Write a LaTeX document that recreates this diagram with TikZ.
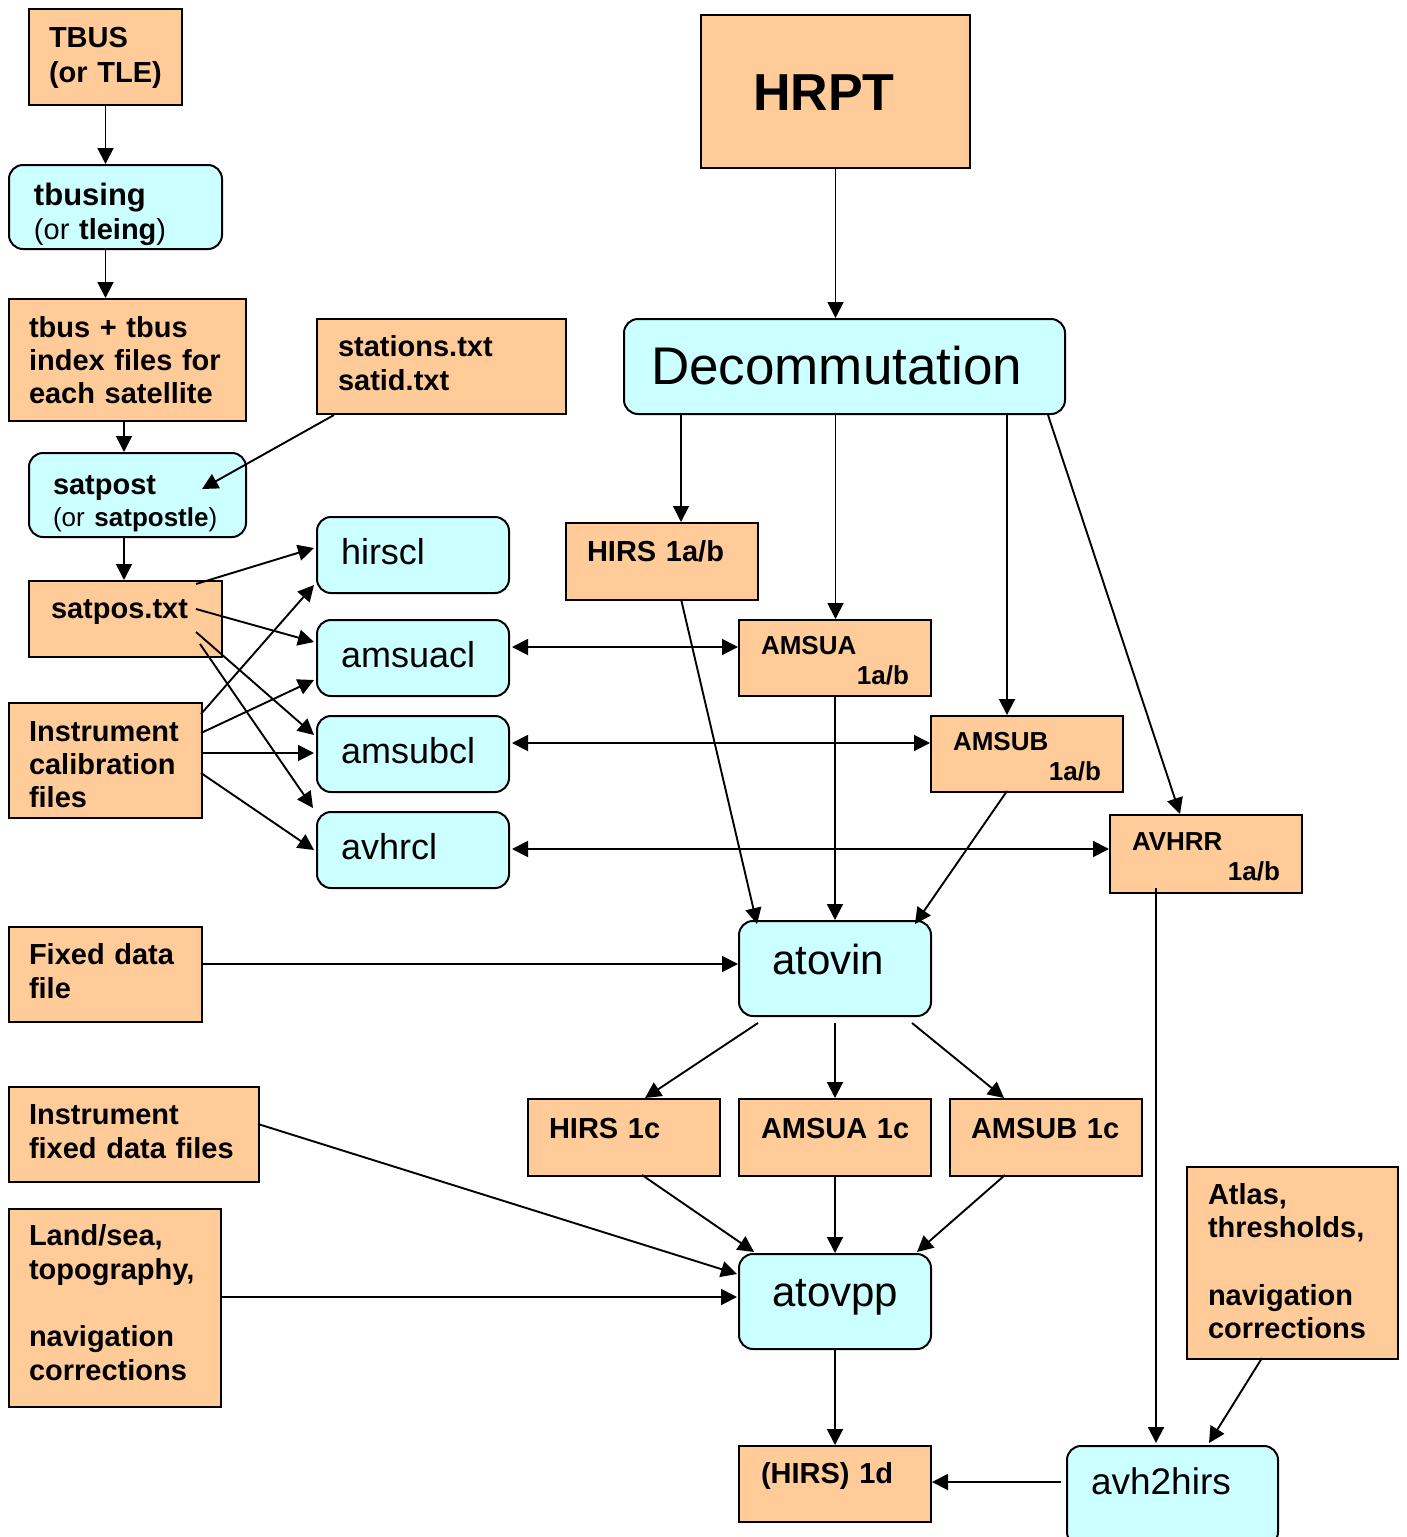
\documentclass[tikz,border=0pt]{standalone}
\usepackage{fontspec}
\setmainfont{Liberation Sans}
\usetikzlibrary{arrows.meta,calc}
\definecolor{orng}{HTML}{FFCC99}
\definecolor{cyn}{HTML}{CCFFFF}
\hyphenpenalty=10000
\exhyphenpenalty=10000
\begin{document}
\begin{tikzpicture}[x=1pt,y=-1pt,
  bxbase/.style={draw=black, line width=2pt, anchor=north west, inner ysep=0pt, align=left},
  obox/.style={bxbase, fill=orng, font=\bfseries\fontsize{29}{34}\selectfont},
  cbox/.style={bxbase, fill=cyn, rounded corners=14pt},
  bxdim/.style n args={3}{minimum width=#1pt, minimum height=#2pt, inner xsep=#3pt, text width=#1pt-2*#3pt},
  th/.style 2 args={text height=#1pt, text depth=#2pt},
  arr/.style={line width=1.9pt, -{Triangle[length=16pt,width=16pt]}},
  darr/.style={line width=1.9pt, {Triangle[length=16pt,width=16pt]}-{Triangle[length=16pt,width=16pt]}},
]
\useasboundingbox (0,0) rectangle (1406,1537);
\clip (0,0) rectangle (1406,1537);

% ---- left column ----
\node[obox, bxdim={153}{96}{20}, th={21}{41}, font=\bfseries\fontsize{29}{35}\selectfont] (tbus) at (28,8) {TBUS\\(or~TLE)};
\node[cbox, bxdim={213}{84}{25}, th={22}{26}, font=\fontsize{29}{34}\selectfont] (tbusing) at (8,164)
  {{\bfseries\fontsize{31}{34}\selectfont tbusing}\\(or~\textbf{tleing})};
\node[obox, bxdim={237}{122}{20}, th={21}{67}, font=\bfseries\fontsize{29}{33}\selectfont] (tbusfiles) at (8,298)
  {tbus~+~tbus\\index~files~for\\each~satellite};
\node[obox, bxdim={249}{95}{21}, th={21}{42}] (stations) at (316,318) {stations.txt\\satid.txt};
\node[cbox, bxdim={217}{84}{24}, th={20}{22}, font=\fontsize{29}{32}\selectfont] (satpost) at (28,452)
  {\textbf{satpost}\\{\fontsize{26}{32}\selectfont(or~\textbf{satpostle})}};
\node[obox, bxdim={193}{76}{22}, th={20}{22}] (satpos) at (28,580) {satpos.txt};
\node[obox, bxdim={193}{115}{20}, th={21}{60}, font=\bfseries\fontsize{29}{33}\selectfont] (instcal) at (8,702)
  {Instrument\\calibration\\files};

% ---- calibration programs ----
\node[cbox, bxdim={192}{76}{24}, th={26}{8}, font=\fontsize{36}{40}\selectfont] (hirscl) at (316,516) {hirscl};
\node[cbox, bxdim={192}{76}{24}, th={26}{8}, font=\fontsize{36}{40}\selectfont] (amsuacl) at (316,619) {amsuacl};
\node[cbox, bxdim={192}{76}{24}, th={26}{8}, font=\fontsize{36}{40}\selectfont] (amsubcl) at (316,715) {amsubcl};
\node[cbox, bxdim={192}{76}{24}, th={26}{8}, font=\fontsize{36}{40}\selectfont] (avhrcl) at (316,811) {avhrcl};

% ---- top right ----
\node[obox, bxdim={269}{153}{52}, th={38}{0}, font=\bfseries\fontsize{52}{60}\selectfont] (hrpt) at (700,14) {HRPT};
\node[cbox, bxdim={441}{95}{27}, th={38}{3}, font=\fontsize{53}{60}\selectfont] (decomm) at (623,318) {Decommutation};

\node[obox, bxdim={192}{77}{21}, th={21}{22}] (hirs1ab) at (565,522) {HIRS~1a/b};
\node[obox, bxdim={192}{76}{22}, th={19}{27}, font=\bfseries\fontsize{26}{30}\selectfont] (amsua) at (738,619) {AMSUA\\\mbox{}\hfill 1a/b};
\node[obox, bxdim={192}{76}{22}, th={19}{27}, font=\bfseries\fontsize{26}{30}\selectfont] (amsub) at (930,715) {AMSUB\\\mbox{}\hfill 1a/b};
\node[obox, bxdim={192}{78}{22}, th={19}{27}, font=\bfseries\fontsize{26}{30}\selectfont] (avhrr) at (1109,814) {AVHRR\\\mbox{}\hfill 1a/b};

% ---- middle ----
\node[obox, bxdim={193}{95}{20}, th={21}{41}] (fixed) at (8,926) {Fixed~data\\file};
\node[cbox, bxdim={192}{95}{33}, th={30}{19}, font=\fontsize{42}{48}\selectfont] (atovin) at (738,920) {atovin};

\node[obox, bxdim={192}{77}{21}, th={21}{20}] (hirs1c) at (527,1098) {HIRS~1c};
\node[obox, bxdim={192}{77}{22}, th={21}{20}] (amsua1c) at (738,1098) {AMSUA~1c};
\node[obox, bxdim={192}{77}{21}, th={21}{20}] (amsub1c) at (949,1098) {AMSUB~1c};

\node[obox, bxdim={250}{95}{20}, th={21}{42}] (instfixed) at (8,1086) {Instrument\\fixed~data~files};
\node[obox, bxdim={212}{198}{20}, th={21}{146}] (landsea) at (8,1208)
  {Land/sea,\\topography,\\[33.4pt]navigation\\corrections};
\node[cbox, bxdim={192}{95}{33}, th={30}{21}, font=\fontsize{42}{48}\selectfont] (atovpp) at (738,1253) {atovpp};
\node[obox, bxdim={211}{192}{21}, th={21}{138}, font=\bfseries\fontsize{29}{33}\selectfont] (atlas) at (1186,1166)
  {Atlas,\\thresholds,\\[35pt]navigation\\corrections};

% ---- bottom ----
\node[obox, bxdim={192}{76}{22}, th={21}{23}] (hirs1d) at (738,1445) {(HIRS)~1d};
\node[cbox, bxdim={211}{100}{24}, th={27}{31}, font=\fontsize{37}{42}\selectfont] (avh2hirs) at (1066,1445) {avh2hirs};

% ---- connectors: left column ----
\draw[arr] (tbus.south) -- (tbus.south |- tbusing.north);
\draw[arr] (tbus.south |- tbusing.south) -- (tbus.south |- tbusfiles.north);
\draw[arr] ($(tbusfiles.south west)+(116,0)$) -- ($(satpost.north west)+(96,0)$);
\draw[arr] ($(stations.south west)+(18,0)$) -- ($(satpost.north west)+(174,37)$);
\draw[arr] ($(satpost.south west)+(96,0)$) -- ($(satpos.north west)+(96,0)$);

\draw[arr] ($(satpos.north west)+(168,4)$) -- ($(hirscl.north west)+(-2,32)$);
\draw[arr] ($(satpos.north west)+(168,29)$) -- ($(amsuacl.north west)+(-2,23)$);
\draw[arr] ($(satpos.north west)+(168,52)$) -- ($(amsubcl.north west)+(-2,20)$);
\draw[arr] ($(satpos.north west)+(172,64)$) -- ($(avhrcl.north west)+(-3,-3)$);

\draw[arr] ($(instcal.north west)+(193,12)$) -- ($(hirscl.north west)+(-2,69)$);
\draw[arr] ($(instcal.north west)+(193,31)$) -- ($(amsuacl.north west)+(-2,61)$);
\draw[arr] ($(instcal.north west)+(193,51)$) -- ($(amsubcl.north west)+(-2,38)$);
\draw[arr] ($(instcal.north west)+(193,71)$) -- ($(avhrcl.north west)+(-2,39)$);

% ---- two-way links ----
\draw[darr] ($(amsuacl.north east)+(2,28)$) -- ($(amsua.north west)+(0,28)$);
\draw[darr] ($(amsubcl.north east)+(2,28)$) -- ($(amsub.north west)+(0,28)$);
\draw[darr] ($(avhrcl.north east)+(2,38)$) -- ($(avhrr.north west)+(0,35)$);

% ---- decommutation ----
\draw[arr] (hrpt.south) -- (hrpt.south |- decomm.north);
\draw[arr] ($(decomm.south west)+(58,0)$) -- ($(hirs1ab.north west)+(116,0)$);
\draw[arr] (hrpt.south |- decomm.south) -- (hrpt.south |- amsua.north);
\draw[arr] ($(decomm.south west)+(384,0)$) -- ($(amsub.north west)+(77,0)$);
\draw[arr] ($(decomm.south east)+(-18,0)$) -- ($(avhrr.north west)+(71,0)$);

% ---- into atovin ----
\draw[arr] ($(hirs1ab.north west)+(116,77)$) -- ($(atovin.north west)+(19,4)$);
\draw[arr] (amsua.south) -- (atovin.north);
\draw[arr] ($(amsub.north west)+(77,76)$) -- ($(atovin.north east)+(-17,4)$);
\draw[arr] ($(fixed.north west)+(193,38)$) -- ($(atovin.north west)+(0,44)$);

% ---- out of atovin ----
\draw[arr] ($(atovin.south west)+(20,6)$) -- ($(hirs1c.north west)+(118,0)$);
\draw[arr] ($(atovin.south)+(0,6)$) -- (amsua1c.north);
\draw[arr] ($(atovin.south east)+(-20,6)$) -- ($(amsub1c.north west)+(55,0)$);

% ---- into atovpp ----
\draw[arr] ($(hirs1c.north west)+(115,77)$) -- ($(atovpp.north west)+(16,-1)$);
\draw[arr] (amsua1c.south) -- (atovpp.north);
\draw[arr] ($(amsub1c.north west)+(56,77)$) -- ($(atovpp.north east)+(-15,-1)$);
\draw[arr] ($(instfixed.north west)+(250,38)$) -- ($(atovpp.north west)+(-1,21)$);
\draw[arr] ($(landsea.north west)+(212,89)$) -- ($(atovpp.north west)+(-1,44)$);

% ---- bottom ----
\draw[arr] (atovpp.south) -- (atovpp.south |- hirs1d.north);
\draw[arr] ($(avhrr.north west)+(47,74)$) -- ($(avh2hirs.north west)+(90,-2)$);
\draw[arr] ($(atlas.north west)+(76,192)$) -- ($(avh2hirs.north west)+(143,-2)$);
\draw[arr] ($(avh2hirs.north west)+(-5,37)$) -- ($(hirs1d.north east)+(0,37)$);
\end{tikzpicture}
\end{document}
